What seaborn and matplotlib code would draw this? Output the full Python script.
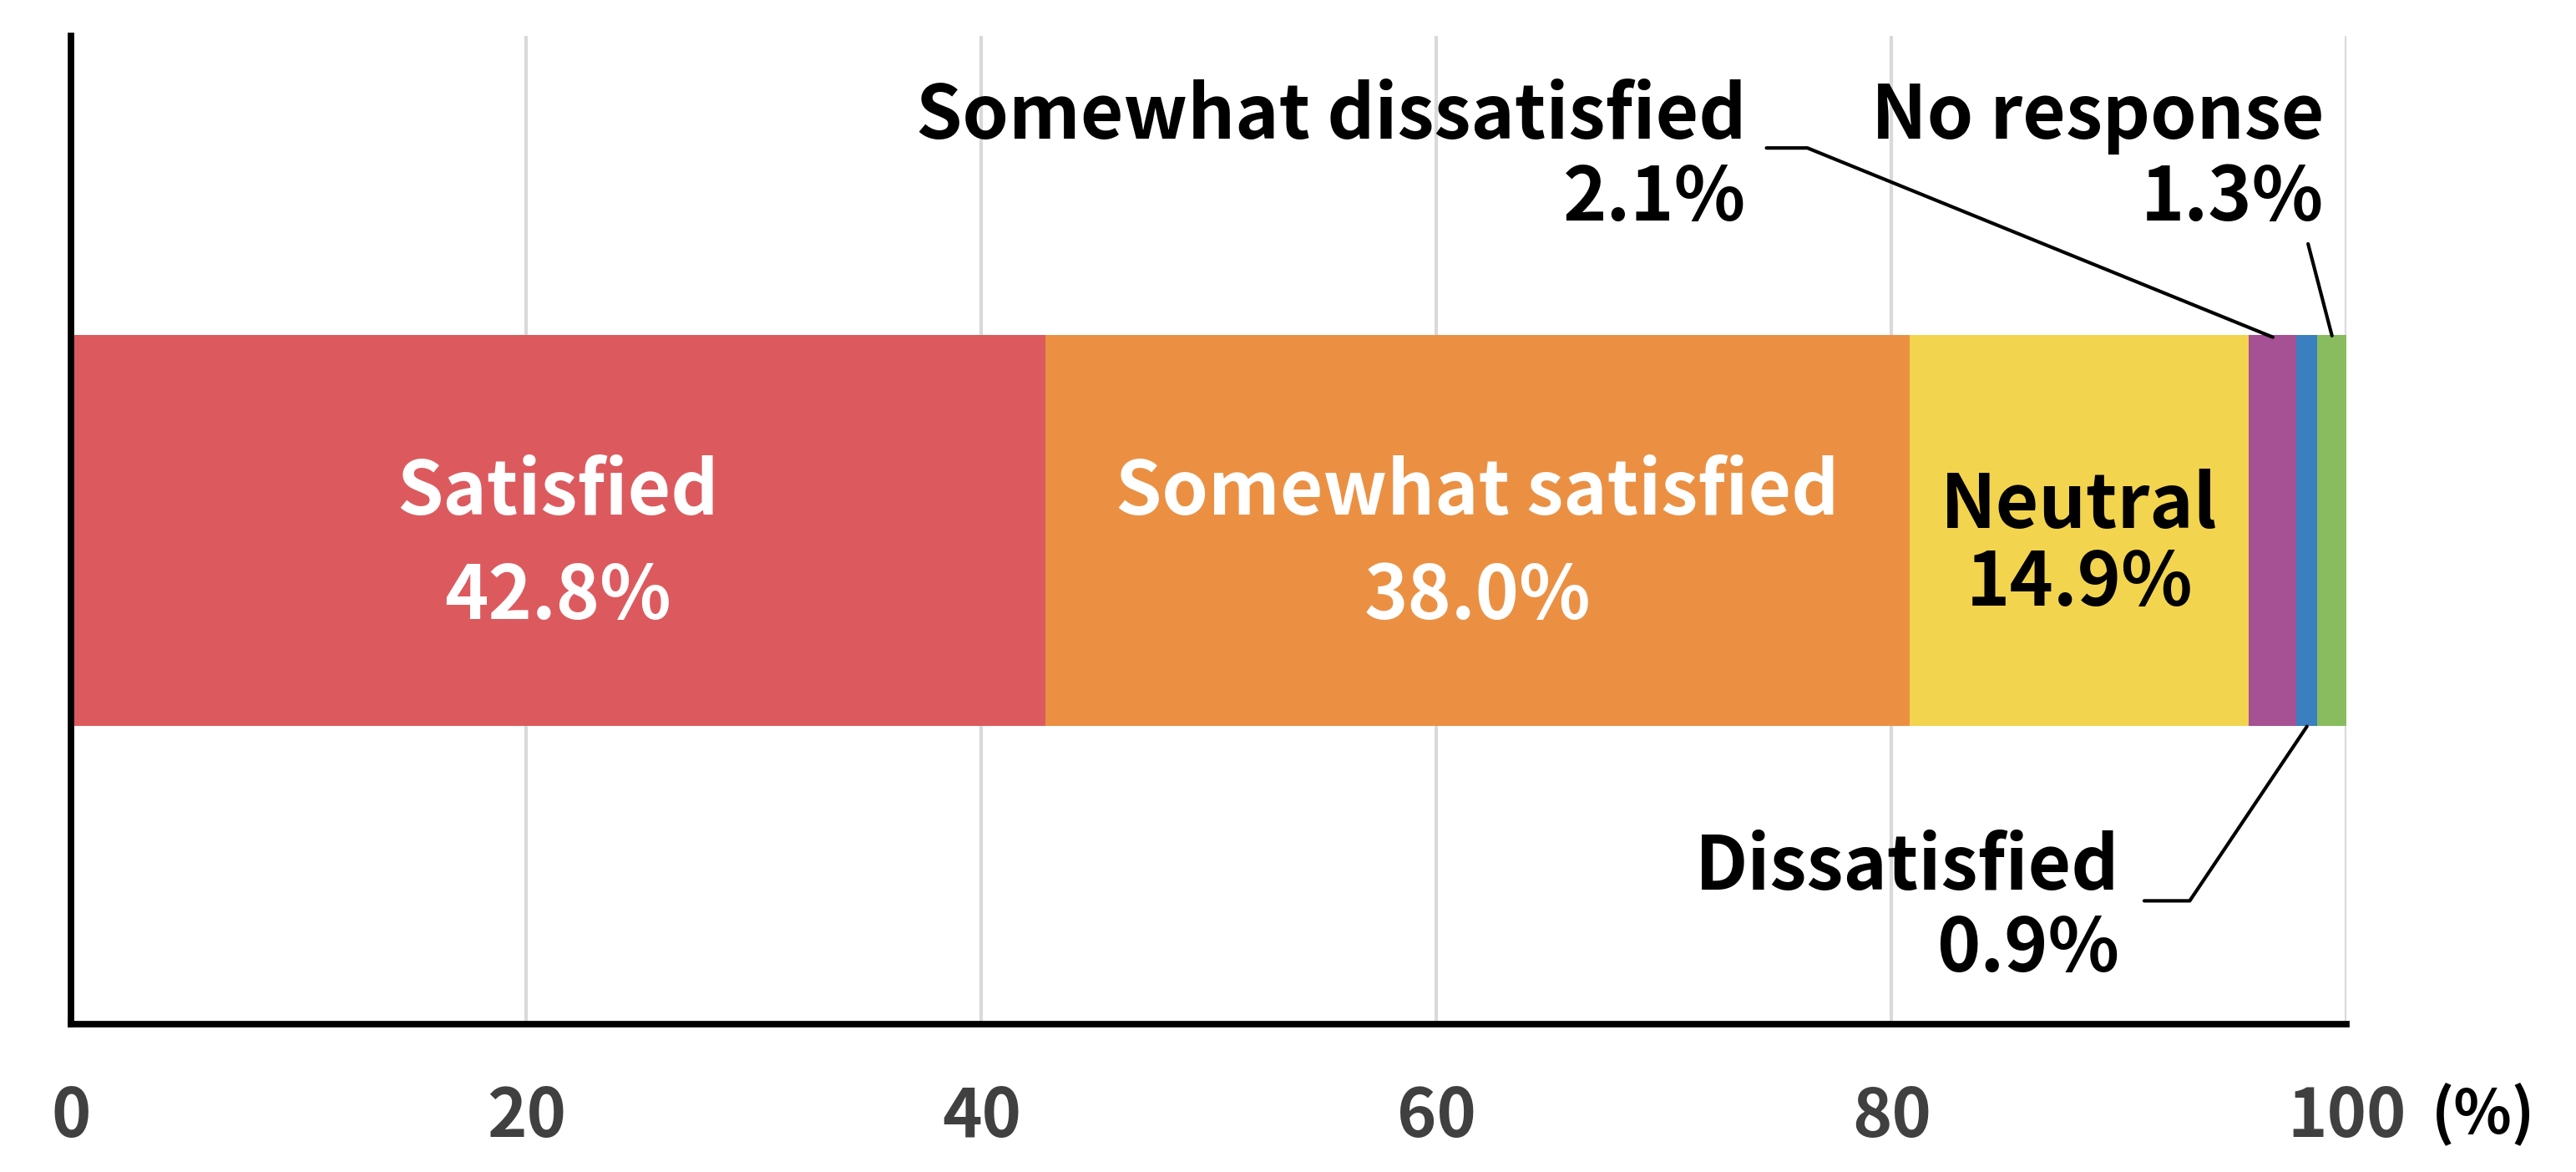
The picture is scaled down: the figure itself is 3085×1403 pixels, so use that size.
import matplotlib
matplotlib.use("Agg")
import matplotlib.pyplot as plt
import matplotlib.transforms as mtransforms
import numpy as np
import seaborn as sns

# data
categories = ["Satisfied", "Somewhat satisfied", "Neutral",
              "Somewhat dissatisfied", "Dissatisfied", "No response"]
values = [42.8, 38.0, 14.9, 2.1, 0.9, 1.3]
colors = ["#DC5A5E", "#EB9043", "#F2D44E", "#A55194", "#3A7FC0", "#88BC5E"]
ticks = [0, 20, 40, 60, 80, 100]
tick_labels = ["0", "20", "40", "60", "80", "100"]

sns.set_style("white")
plt.rcParams["font.family"] = ["Noto Sans CJK JP", "DejaVu Sans"]
plt.rcParams["font.weight"] = "bold"

fig = plt.figure(figsize=(15.425, 7.015), dpi=200)
ax = fig.add_axes([0.0276, 0.126, 0.8834, 0.843])

# stacked bar: draw cumulative totals longest first so shorter ones sit on top
cum = np.cumsum(values)
for i in range(len(values) - 1, -1, -1):
    sns.barplot(x=[cum[i]], y=[""], orient="h", color=colors[i],
                saturation=1, width=0.396, linewidth=0, ax=ax)

ax.set_xlim(0, 100)
ax.set_ylim(0.5, -0.5)
ax.set_xticks(ticks)
ax.set_xticklabels(tick_labels, fontsize=29, fontweight="bold", color="#404040")
ax.set_yticks([])
ax.set_xlabel("")
ax.set_ylabel("")
ax.tick_params(axis="x", length=0, pad=25.5)
ax.grid(axis="x", color="#d9d9d9", linewidth=1.5)
ax.set_axisbelow(True)
sns.despine(ax=ax)
for side in ["left", "bottom"]:
    ax.spines[side].set_color("black")
    ax.spines[side].set_linewidth(2.8)

# labels inside the bar
starts = cum - np.array(values)
mids = starts + np.array(values) / 2
trans = mtransforms.blended_transform_factory(ax.transData, ax.transAxes)
for i in range(3):
    col = "white" if i < 2 else "black"
    ls = 1.5 if i < 2 else 1.05
    ax.text(mids[i], 0.485, f"{categories[i]}\n{values[i]:.1f}%", transform=trans,
            ha="center", va="center", fontsize=32, fontweight="bold", color=col,
            linespacing=ls, multialignment="center")

# callouts for the small segments
ax.text(73.6, 0.877, f"{categories[3]}\n{values[3]:.1f}%", transform=trans,
        ha="right", va="center", fontsize=32, fontweight="bold", color="black",
        linespacing=1.12, multialignment="right")
ax.plot([74.5, 76.3, mids[3]], [0.887, 0.887, 0.6955], transform=trans,
        color="black", lw=1.5, clip_on=False)

ax.text(99.0, 0.877, f"{categories[5]}\n{values[5]:.1f}%", transform=trans,
        ha="right", va="center", fontsize=32, fontweight="bold", color="black",
        linespacing=1.12, multialignment="right")
ax.plot([98.3, mids[5]], [0.790, 0.697], transform=trans,
        color="black", lw=1.5, clip_on=False)

ax.text(90.0, 0.117, f"{categories[4]}\n{values[4]:.1f}%", transform=trans,
        ha="right", va="center", fontsize=32, fontweight="bold", color="black",
        linespacing=1.12, multialignment="right")
ax.plot([91.1, 93.1, mids[4]], [0.125, 0.125, 0.3015], transform=trans,
        color="black", lw=1.5, clip_on=False)

# unit label
ax.text(106.0, -0.092, "(%)", transform=trans, ha="center", va="center",
        fontsize=26, fontweight="bold", color="black", clip_on=False)

plt.savefig("out.png", dpi=200)
